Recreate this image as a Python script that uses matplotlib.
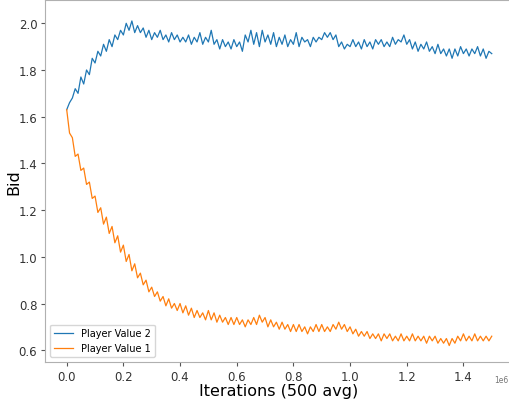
"""Bid per player value over training iterations (500-iteration averages)."""

import matplotlib

matplotlib.use("Agg")
import matplotlib.pyplot as plt
import numpy as np

# iterations in units of 1e6, one reading every 0.01e6
iterations = np.arange(151) * 0.01e6

bid_value_2 = [
    1.63, 1.66, 1.68, 1.72, 1.70, 1.77, 1.74, 1.80, 1.78, 1.85,
    1.83, 1.88, 1.86, 1.91, 1.88, 1.93, 1.90, 1.95, 1.93, 1.97,
    1.95, 2.00, 1.97, 2.01, 1.96, 1.99, 1.96, 1.98, 1.94, 1.97,
    1.93, 1.96, 1.94, 1.97, 1.93, 1.95, 1.92, 1.96, 1.93, 1.95,
    1.92, 1.94, 1.92, 1.95, 1.91, 1.94, 1.92, 1.96, 1.91, 1.94,
    1.92, 1.97, 1.91, 1.93, 1.89, 1.93, 1.90, 1.92, 1.89, 1.93,
    1.90, 1.92, 1.88, 1.95, 1.92, 1.97, 1.91, 1.96, 1.90, 1.97,
    1.92, 1.95, 1.91, 1.96, 1.90, 1.94, 1.91, 1.95, 1.90, 1.93,
    1.91, 1.96, 1.90, 1.94, 1.92, 1.93, 1.90, 1.94, 1.92, 1.94,
    1.93, 1.96, 1.94, 1.96, 1.93, 1.95, 1.90, 1.92, 1.89, 1.91,
    1.90, 1.93, 1.90, 1.92, 1.89, 1.93, 1.90, 1.92, 1.89, 1.93,
    1.91, 1.93, 1.90, 1.92, 1.90, 1.94, 1.91, 1.93, 1.92, 1.95,
    1.91, 1.93, 1.89, 1.92, 1.88, 1.91, 1.89, 1.92, 1.88, 1.90,
    1.87, 1.91, 1.87, 1.89, 1.86, 1.89, 1.85, 1.89, 1.86, 1.90,
    1.87, 1.89, 1.86, 1.89, 1.87, 1.90, 1.86, 1.89, 1.85, 1.88,
    1.87,
]

bid_value_1 = [
    1.63, 1.53, 1.51, 1.43, 1.44, 1.37, 1.38, 1.31, 1.32, 1.25,
    1.26, 1.19, 1.21, 1.14, 1.17, 1.10, 1.13, 1.06, 1.09, 1.02,
    1.05, 0.98, 1.01, 0.94, 0.97, 0.91, 0.93, 0.88, 0.90, 0.85,
    0.87, 0.83, 0.85, 0.81, 0.83, 0.79, 0.82, 0.78, 0.80, 0.77,
    0.80, 0.76, 0.79, 0.75, 0.78, 0.74, 0.77, 0.74, 0.76, 0.73,
    0.77, 0.73, 0.76, 0.72, 0.75, 0.72, 0.74, 0.71, 0.74, 0.71,
    0.74, 0.71, 0.73, 0.70, 0.73, 0.71, 0.74, 0.71, 0.75, 0.72,
    0.74, 0.70, 0.73, 0.70, 0.72, 0.69, 0.72, 0.69, 0.71, 0.68,
    0.71, 0.68, 0.71, 0.68, 0.70, 0.67, 0.70, 0.68, 0.71, 0.68,
    0.71, 0.68, 0.70, 0.68, 0.71, 0.69, 0.72, 0.69, 0.71, 0.68,
    0.70, 0.67, 0.69, 0.66, 0.68, 0.66, 0.68, 0.65, 0.67, 0.65,
    0.67, 0.64, 0.67, 0.65, 0.67, 0.64, 0.66, 0.64, 0.67, 0.64,
    0.66, 0.64, 0.67, 0.64, 0.66, 0.64, 0.66, 0.63, 0.66, 0.64,
    0.66, 0.63, 0.65, 0.63, 0.65, 0.62, 0.65, 0.63, 0.66, 0.64,
    0.67, 0.64, 0.66, 0.64, 0.67, 0.64, 0.66, 0.64, 0.66, 0.64,
    0.66,
]

SPINE_GREY = "#b0b0b0"


def main() -> None:
    fig = plt.figure(figsize=(5.09, 4.02), dpi=100)
    # the axes run a few pixels past the right edge, as in the cropped original
    ax = fig.add_axes([45 / 509, 1 - 363 / 402, 468 / 509, 362.3 / 402])

    ax.plot(iterations, bid_value_2, color="#1f77b4", linewidth=0.9, label="Player Value 2")
    ax.plot(iterations, bid_value_1, color="#ff7f0e", linewidth=0.9, label="Player Value 1")

    ax.set_xlim(-0.0766e6, 1.575e6)
    ax.set_ylim(0.5495, 2.101)
    ax.set_xticks(np.arange(0, 1.41e6, 0.2e6))
    ax.set_yticks(np.arange(0.6, 2.01, 0.2))

    ax.set_xlabel("Iterations (500 avg)", fontsize=11.5, labelpad=0)
    ax.set_ylabel("Bid", fontsize=11.5, labelpad=-2.3)
    ax.tick_params(labelsize=8.5, colors="#555555", labelcolor="#333333", length=3, pad=2.5)
    for spine in ax.spines.values():
        spine.set_color(SPINE_GREY)

    # scale marker drawn by hand so it stays inside the cropped canvas
    ax.xaxis.get_offset_text().set_visible(False)
    fig.text(508 / 509, 1 - 381 / 402, "1e6", fontsize=5.5, color="#777777",
             ha="right", va="center")

    ax.legend(loc="lower left", fontsize=7, borderaxespad=0.5)

    fig.savefig("out.png", dpi=100)
    plt.close(fig)


if __name__ == "__main__":
    main()
